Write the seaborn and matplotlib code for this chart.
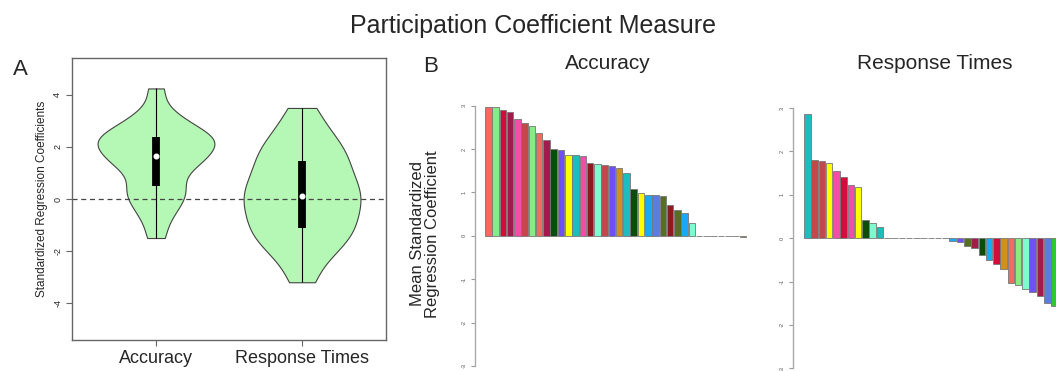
import numpy as np
import pandas as pd
import matplotlib
matplotlib.use('Agg')  # no display
import matplotlib.pyplot as plt
import seaborn as sns

sns.set_style('white')
plt.rcParams['font.family'] = ['Liberation Sans', 'DejaVu Sans']
plt.rcParams['axes.unicode_minus'] = False

# Panel A: coefficient samples estimated from the violin outlines
measures = ['Accuracy', 'Response Times']
acc_coefs = [-1.5, -0.8, -0.4, -0.1, 0.15, 0.35, 0.5, 0.9, 1.15, 1.35, 1.5, 1.6, 1.65,
             1.9, 2.05, 2.15, 2.2, 2.28, 2.4, 2.5, 2.65, 2.85, 3.05, 3.4, 4.25]
rt_coefs = [-3.2, -2.45, -2.05, -1.75, -1.5, -1.28, -1.1, -0.88, -0.66, -0.45, -0.25, -0.07, 0.1,
            0.3, 0.5, 0.7, 0.9, 1.12, 1.45, 1.6, 1.85, 2.15, 2.45, 2.85, 3.5]

# Panel B: mean standardized coefficient per network (sorted)
SALMON, LGREEN, CRIMSON, MAROON = '#f46a5c', '#86ec86', '#d40c3c', '#a21a4e'
HOTPINK, INDRED, DKGREEN, BVIOLET = '#f54ca8', '#c4474c', '#0b4d0b', '#6f50f5'
YELLOW, TEAL, DKRED, AQUA = '#ffff00', '#1ebdbd', '#8b1a22', '#7dfbcf'
GOLD, DSKY, CORN, OLIVE, LIME = '#d18f1c', '#17aaf5', '#5a7ee0', '#566f22', '#2ec82e'
GRAY = '#999999'

acc_means = [2.97, 2.97, 2.89, 2.85, 2.69, 2.59, 2.54, 2.37, 2.22, 2.01, 1.97, 1.86, 1.86,
             1.85, 1.67, 1.65, 1.63, 1.62, 1.57, 1.45, 1.09, 0.98, 0.95, 0.94, 0.92, 0.71,
             0.59, 0.52, 0.30, 0, 0, 0, 0, 0, 0, -0.03]
acc_colors = [SALMON, LGREEN, CRIMSON, MAROON, HOTPINK, INDRED, LGREEN, SALMON, MAROON,
              DKGREEN, BVIOLET, YELLOW, TEAL, HOTPINK, DKRED, AQUA, INDRED, BVIOLET, GOLD,
              TEAL, DKGREEN, YELLOW, DSKY, CORN, OLIVE, DKRED, OLIVE, DSKY, AQUA,
              GRAY, GRAY, GRAY, GRAY, GRAY, GRAY, GOLD]

rt_means = [2.87, 1.81, 1.77, 1.73, 1.55, 1.42, 1.22, 1.18, 0.41, 0.35, 0.25, 0.01,
            0, 0, 0, 0, 0, 0, 0, 0,
            -0.07, -0.10, -0.18, -0.22, -0.39, -0.50, -0.60, -0.72, -1.04, -1.08, -1.17,
            -1.25, -1.33, -1.50, -1.56]
rt_colors = [TEAL, INDRED, INDRED, YELLOW, HOTPINK, CRIMSON, HOTPINK, YELLOW, DKGREEN, AQUA,
             TEAL, DKRED, GRAY, GRAY, GRAY, GRAY, GRAY, GRAY, GRAY, GRAY,
             DSKY, BVIOLET, OLIVE, MAROON, DKGREEN, DSKY, CRIMSON, GOLD, SALMON, LGREEN,
             AQUA, BVIOLET, MAROON, CORN, LIME]

W, H = 1056, 371
fig = plt.figure(figsize=(W / 100, H / 100), dpi=100)


def px_axes(x0, y0, x1, y1):
    return fig.add_axes([x0 / W, 1 - y1 / H, (x1 - x0) / W, (y1 - y0) / H])


# ---- Panel A: violins ----
axA = px_axes(72, 58, 386, 340)
df = pd.DataFrame({
    'measure': ['Accuracy'] * len(acc_coefs) + ['Response Times'] * len(rt_coefs),
    'coef': acc_coefs + rt_coefs,
})
sns.violinplot(data=df, x='measure', y='coef', order=measures, color='#b5f7b5',
               saturation=1, linecolor='#444444', linewidth=0.8, cut=0, bw_adjust=0.62,
               width=0.8, density_norm='width', inner='box',
               inner_kws=dict(box_width=5.6, whis_width=0.8, marker='o', markersize=3.2,
                              color='black', solid_capstyle='butt'),
               ax=axA)
axA.axhline(0, color='#444444', ls=(0, (4, 3)), lw=0.9, zorder=1.5)
axA.set_xlim(-0.575, 1.575)
axA.set_ylim(-5.42, 5.42)
axA.set_yticks([-4, -2, 0, 2, 4])
axA.set_yticklabels(['-4', '-2', '0', '2', '4'], rotation=90, va='center', fontsize=6.5)
axA.tick_params(left=True, bottom=True, length=4, color='#666666', pad=3)
axA.tick_params(axis='x', labelsize=13)
axA.set_xlabel('')
axA.set_ylabel('Standardized Regression Coefficients', fontsize=8.5, labelpad=4)
for sp in axA.spines.values():
    sp.set_color('#666666')
    sp.set_linewidth(1)


# ---- Panel B: sorted bars ----
def draw_bars(ax, means, colors, xlim):
    labels = [str(i + 1) for i in range(len(means))]
    sns.barplot(x=labels, y=means, hue=labels, palette=dict(zip(labels, colors)),
                saturation=1, width=0.9, edgecolor='#777777', linewidth=0.6,
                legend=False, ax=ax)
    ax.set_xlim(*xlim)
    ax.set_ylim(-3, 3)
    ax.set_xticks([])
    ax.set_yticks([-3, -2, -1, 0, 1, 2, 3])
    ax.set_yticklabels(['-3', '-2', '-1', '0', '1', '2', '3'], rotation=90, va='center',
                       fontsize=4, color='#555555')
    ax.tick_params(left=True, length=3, color='#999999', pad=3)
    for side in ['top', 'right', 'bottom']:
        ax.spines[side].set_visible(False)
    ax.spines['left'].set_color('#aaaaaa')
    ax.spines['left'].set_linewidth(1)
    ax.set_ylabel('')


axB1 = px_axes(475, 105.7, 751.5, 366)
draw_bars(axB1, acc_means, acc_colors, (-1.83, 36.2))
axB2 = px_axes(793, 108, 1056, 368.3)
draw_bars(axB2, rt_means, rt_colors, (-1.97, 34.2))

# ---- text ----
fig.text(533 / W, 1 - 33 / H, 'Participation Coefficient Measure', ha='center',
         va='baseline', fontsize=18)
fig.text(20 / W, 1 - 75 / H, 'A', ha='center', va='baseline', fontsize=16)
fig.text(431 / W, 1 - 72 / H, 'B', ha='center', va='baseline', fontsize=16)
fig.text(608 / W, 1 - 69 / H, 'Accuracy', ha='center', va='baseline', fontsize=15)
fig.text(935 / W, 1 - 69 / H, 'Response Times', ha='center', va='baseline', fontsize=15)
fig.text(425 / W, 1 - 234 / H, 'Mean Standardized\nRegression Coefficient', ha='center',
         va='center', rotation=90, fontsize=12, linespacing=1.05)

fig.savefig('out.png', dpi=100)
